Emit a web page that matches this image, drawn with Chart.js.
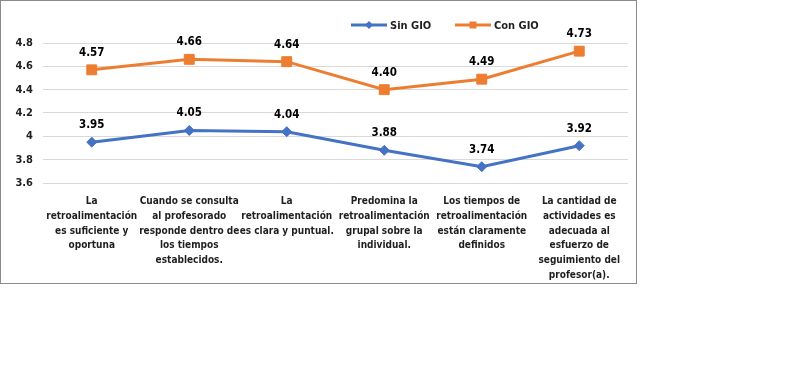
<!DOCTYPE html>
<html>
<head>
<meta charset="utf-8">
<title>Retroalimentación Sin GIO / Con GIO</title>
<script src="https://cdn.jsdelivr.net/npm/chart.js"></script>
<style>
  body { margin: 0; background: #fff; }
  #marco { position: absolute; left: 0; top: 0; width: 637px; height: 284px; border: 1px solid #8c8c8c; box-sizing: border-box; }
  #grafico { position: absolute; left: 0; top: 0; }
</style>
</head>
<body>
<div id="marco"><canvas id="grafico" width="635" height="282"></canvas></div>
<script>
// Datos del gráfico
const categorias = [
  ['La', 'retroalimentación', 'es suficiente y', 'oportuna'],
  ['Cuando se consulta', 'al profesorado', 'responde dentro de', 'los tiempos', 'establecidos.'],
  ['La', 'retroalimentación', 'es clara y puntual.'],
  ['Predomina la', 'retroalimentación', 'grupal sobre la', 'individual.'],
  ['Los tiempos de', 'retroalimentación', 'están claramente', 'definidos'],
  ['La cantidad de', 'actividades es', 'adecuada al', 'esfuerzo de', 'seguimiento del', 'profesor(a).']
];
const sinGio = [3.95, 4.05, 4.04, 3.88, 3.74, 3.92];
const conGio = [4.57, 4.66, 4.64, 4.40, 4.49, 4.73];
const ticksY = [3.6, 3.8, 4, 4.2, 4.4, 4.6, 4.8];

const FUENTE = "'DejaVu Sans Condensed', 'Liberation Sans', sans-serif";
const AZUL = '#4472C4';
const NARANJA = '#ED7D31';
const TEXTO = '#1f1f1f';

// Etiquetas de valor encima de cada punto
const etiquetasDatos = {
  id: 'etiquetasDatos',
  afterDatasetsDraw(chart) {
    const ctx = chart.ctx;
    ctx.save();
    ctx.font = 'bold 11.5px ' + FUENTE;
    ctx.fillStyle = '#000';
    ctx.textAlign = 'center';
    ctx.textBaseline = 'middle';
    chart.data.datasets.forEach((ds, i) => {
      chart.getDatasetMeta(i).data.forEach((p, j) => {
        ctx.fillText(ds.data[j].toFixed(2), p.x, p.y - 17);
      });
    });
    ctx.restore();
  }
};

// Leyenda dibujada a mano (arriba a la derecha)
const leyenda = {
  id: 'leyenda',
  afterDraw(chart) {
    const ctx = chart.ctx;
    const inicios = [350, 454];
    const y = 24;
    chart.data.datasets.forEach((ds, i) => {
      const x = inicios[i];
      ctx.save();
      ctx.strokeStyle = ds.borderColor;
      ctx.fillStyle = ds.borderColor;
      ctx.lineWidth = 3;
      ctx.beginPath();
      ctx.moveTo(x, y);
      ctx.lineTo(x + 36, y);
      ctx.stroke();
      const cx = x + 18;
      ctx.beginPath();
      if (ds.pointStyle === 'rect') {
        ctx.rect(cx - 3.5, y - 3.5, 7, 7);
      } else {
        ctx.moveTo(cx, y - 4); ctx.lineTo(cx + 4, y); ctx.lineTo(cx, y + 4); ctx.lineTo(cx - 4, y);
        ctx.closePath();
      }
      ctx.fill();
      ctx.font = 'bold 11px ' + FUENTE;
      ctx.fillStyle = TEXTO;
      ctx.textBaseline = 'middle';
      ctx.fillText(ds.label, x + 39, y + 1);
      ctx.restore();
    });
  }
};

new Chart(document.getElementById('grafico'), {
  type: 'line',
  data: {
    labels: categorias,
    datasets: [
      {
        label: 'Sin GIO',
        data: sinGio,
        borderColor: AZUL,
        backgroundColor: AZUL,
        borderWidth: 3,
        pointStyle: 'rectRot',
        pointRadius: 5,
        pointBorderWidth: 1,
        tension: 0
      },
      {
        label: 'Con GIO',
        data: conGio,
        borderColor: NARANJA,
        backgroundColor: NARANJA,
        borderWidth: 3,
        pointStyle: 'rect',
        pointRadius: 7,
        pointBorderWidth: 1,
        tension: 0
      }
    ]
  },
  options: {
    responsive: false,
    animation: false,
    layout: { padding: { top: 42, right: 4, left: 0, bottom: 0 } },
    plugins: {
      legend: { display: false },
      tooltip: { enabled: false }
    },
    scales: {
      x: {
        offset: true,
        grid: { display: false },
        border: { display: false },
        ticks: {
          autoSkip: false,
          maxRotation: 0,
          minRotation: 0,
          padding: 3,
          color: TEXTO,
          font: { family: FUENTE, size: 10, weight: 'bold', lineHeight: '14.8px' }
        },
        afterFit(s) { s.height = 100; }
      },
      y: {
        min: ticksY[0],
        max: ticksY[ticksY.length - 1],
        afterBuildTicks(s) { s.ticks = ticksY.map(v => ({ value: v })); },
        grid: { color: '#d9d9d9', lineWidth: 1, drawTicks: false },
        border: { display: false },
        ticks: {
          padding: 10,
          color: TEXTO,
          font: { family: FUENTE, size: 11, weight: 'bold' },
          callback: v => String(v)
        },
        afterFit(s) { s.width = 42; }
      }
    }
  },
  plugins: [etiquetasDatos, leyenda]
});
</script>
</body>
</html>
